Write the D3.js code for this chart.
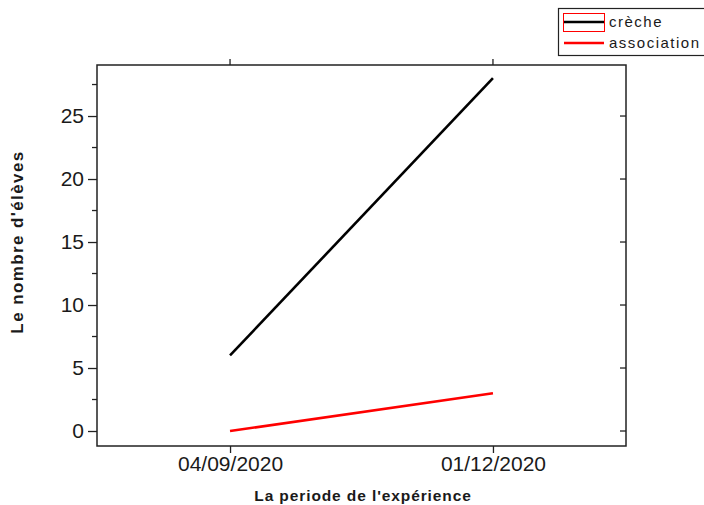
<html>
<script src='https://d3js.org/d3.v7.min.js'></script>
<style>
body {margin: 0; background: white;}
text {font-family: Arial, "Liberation Sans", sans-serif; fill: #1a1a1a;}
</style>
<body>
<svg width=704 height=505></svg>
<script>

// data
var dates = ["04/09/2020", "01/12/2020"];
var creche = [6, 28];
var association = [0, 3];
var seriesNames = ["crèche", "association"];
var yTicks = [0, 5, 10, 15, 20, 25];

var svg = d3.select("svg");

// plot frame
var pLeft = 97, pRight = 626, pTop = 65, pBottom = 446;

var x = d3.scaleLinear().domain([0.494, 2.506]).range([pLeft, pRight]);
var y = d3.scaleLinear().domain([-1.19, 29.05]).range([pBottom, pTop]);

// left axis (outward ticks, with minor)
var minorY = d3.range(-1, 30).map(function(d){ return d * 2.5; }).filter(function(d){ return d > -1.19 && d < 29.05 && d % 5 != 0; });

svg.append("g")
    .attr("transform", "translate(" + pLeft + ",0)")
    .call(d3.axisLeft(y).tickValues(yTicks).tickSize(9).tickPadding(4))
    .call(function(g){ g.select(".domain").remove(); })
    .selectAll("text").style("font-size", "21px").attr("fill", "#1a1a1a");

svg.append("g").selectAll("line").data(minorY).enter().append("line")
    .attr("x1", pLeft - 5).attr("x2", pLeft)
    .attr("y1", function(d){ return y(d); }).attr("y2", function(d){ return y(d); })
    .attr("stroke", "#222").attr("stroke-width", 1.3);

// right axis ticks (inward)
svg.append("g").selectAll("line").data(yTicks).enter().append("line")
    .attr("x1", pRight - 6).attr("x2", pRight)
    .attr("y1", function(d){ return y(d); }).attr("y2", function(d){ return y(d); })
    .attr("stroke", "#222").attr("stroke-width", 1.3);

// bottom axis
svg.append("g")
    .attr("transform", "translate(0," + pBottom + ")")
    .call(d3.axisBottom(x).tickValues([1, 2]).tickFormat(function(d){ return dates[d - 1]; }).tickSize(7).tickPadding(3))
    .call(function(g){ g.select(".domain").remove(); })
    .selectAll("text").style("font-size", "21px").attr("fill", "#1a1a1a");

// top axis ticks
svg.append("g").selectAll("line").data([1, 2]).enter().append("line")
    .attr("x1", function(d){ return x(d); }).attr("x2", function(d){ return x(d); })
    .attr("y1", pTop - 6).attr("y2", pTop)
    .attr("stroke", "#222").attr("stroke-width", 1.3);

svg.selectAll(".tick line").attr("stroke", "#222").attr("stroke-width", 1.3);

// frame
svg.append("rect")
    .attr("x", pLeft).attr("y", pTop)
    .attr("width", pRight - pLeft).attr("height", pBottom - pTop)
    .attr("fill", "none").attr("stroke", "#222").attr("stroke-width", 1.5);

// lines
var line = d3.line()
    .x(function(d, i){ return x(i + 1); })
    .y(function(d){ return y(d); });

svg.append("path").datum(creche)
    .attr("fill", "none").attr("stroke", "black").attr("stroke-width", 2.6)
    .attr("d", line);

svg.append("path").datum(association)
    .attr("fill", "none").attr("stroke", "#ff0000").attr("stroke-width", 2.6)
    .attr("d", line);

// axis titles
svg.append("text")
    .text("La periode de l'expérience")
    .attr("x", 363).attr("y", 501)
    .attr("text-anchor", "middle")
    .style("font-size", "15.5px").style("font-weight", "bold").style("letter-spacing", "0.9px");

svg.append("text")
    .text("Le nombre d'élèves")
    .attr("transform", "translate(23,242) rotate(-90)")
    .attr("text-anchor", "middle")
    .style("font-size", "17px").style("font-weight", "bold").style("letter-spacing", "1.4px");

// legend
var lg = svg.append("g");
lg.append("rect")
    .attr("x", 558.5).attr("y", 8.5).attr("width", 150).attr("height", 47)
    .attr("fill", "white").attr("stroke", "#222").attr("stroke-width", 1.2);

lg.append("rect")
    .attr("x", 563.5).attr("y", 13.5).attr("width", 41).attr("height", 18)
    .attr("fill", "none").attr("stroke", "#ff0000").attr("stroke-width", 1);

var colors = ["black", "#ff0000"];
seriesNames.forEach(function(name, i) {
    var ly = 22 + i * 21;
    lg.append("line")
        .attr("x1", 564).attr("x2", 604)
        .attr("y1", ly).attr("y2", ly)
        .attr("stroke", colors[i]).attr("stroke-width", 2.6);
    lg.append("text")
        .text(name)
        .attr("x", 609).attr("y", ly + 5)
        .style("font-size", "15px").style("letter-spacing", "1.5px");
});

</script>
</body>
</html>
